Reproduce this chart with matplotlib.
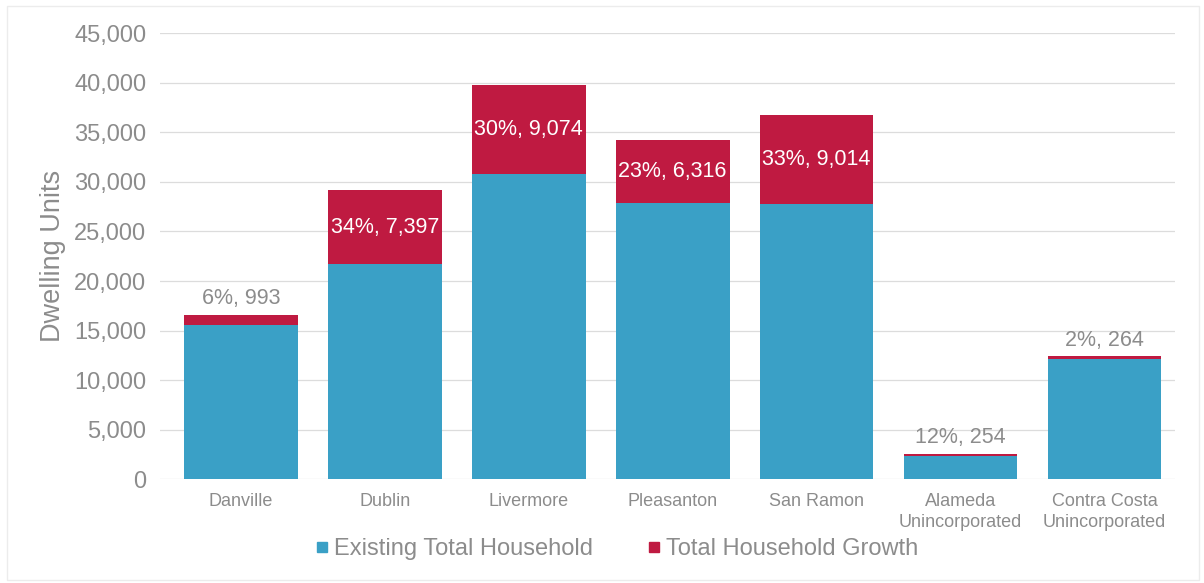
import matplotlib
matplotlib.use("Agg")
import matplotlib.pyplot as plt
from matplotlib.patches import Rectangle
from matplotlib.lines import Line2D

plt.rcParams['font.family'] = ['Liberation Sans', 'DejaVu Sans']

categories = ["Danville", "Dublin", "Livermore", "Pleasanton", "San Ramon",
              "Alameda\nUnincorporated", "Contra Costa\nUnincorporated"]
existing = [15600, 21750, 30750, 27880, 27760, 2320, 12150]
growth = [993, 7397, 9074, 6316, 9014, 254, 264]
growth_pct = [6, 34, 30, 23, 33, 12, 2]
yticks = list(range(0, 45001, 5000))

blue = "#3aa0c6"
red = "#bf1a41"
grey = "#8c8c8c"

fig = plt.figure(figsize=(12.04, 5.83), dpi=100)
ax = fig.add_axes([0.133, 0.178, 0.843, 0.765])

x = list(range(len(categories)))
ax.bar(x, existing, width=0.79, color=blue, zorder=2, label="Existing Total Household")
ax.bar(x, growth, width=0.79, bottom=existing, color=red, zorder=2,
       label="Total Household Growth")

for xi, base, g, p in zip(x, existing, growth, growth_pct):
    text = f"{p}%, {g:,}"
    if g >= 5000:
        ax.text(xi, base + g / 2, text, ha="center", va="center",
                color="white", fontsize=15.5, zorder=3)
    else:
        ax.annotate(text, (xi, base + g), xytext=(0, 4), textcoords="offset points",
                    ha="center", va="bottom", color=grey, fontsize=15.5, zorder=3)

ax.set_xlim(-0.56, 6.49)
ax.set_ylim(0, 45000)
ax.set_yticks(yticks)
ax.set_yticklabels([f"{v:,}" for v in yticks], fontsize=17, color=grey)
ax.set_xticks(x)
ax.set_xticklabels(categories, fontsize=13, color=grey, linespacing=1.3)
ax.tick_params(axis="both", length=0, pad=10)
ax.tick_params(axis="x", pad=10)
ax.set_ylabel("Dwelling Units", fontsize=19.5, color=grey, labelpad=6)
ax.yaxis.grid(True, color="#dcdcdc", linewidth=0.9, zorder=0)
for s in ax.spines.values():
    s.set_visible(False)

handles = [Line2D([], [], marker="s", linestyle="none", markersize=7, color=blue),
           Line2D([], [], marker="s", linestyle="none", markersize=7, color=red)]
fig.legend(handles, ["Existing Total Household", "Total Household Growth"],
           loc="center", bbox_to_anchor=(0.511, 0.058), ncol=2, frameon=False,
           fontsize=17, labelcolor=grey, handlelength=0.8, handletextpad=0.1,
           columnspacing=2.2)

fig.patches.append(Rectangle((0.006, 0.005), 0.99, 0.985, transform=fig.transFigure,
                             fill=False, edgecolor="#ececec", linewidth=1.0))

fig.savefig("out.png", dpi=100)
